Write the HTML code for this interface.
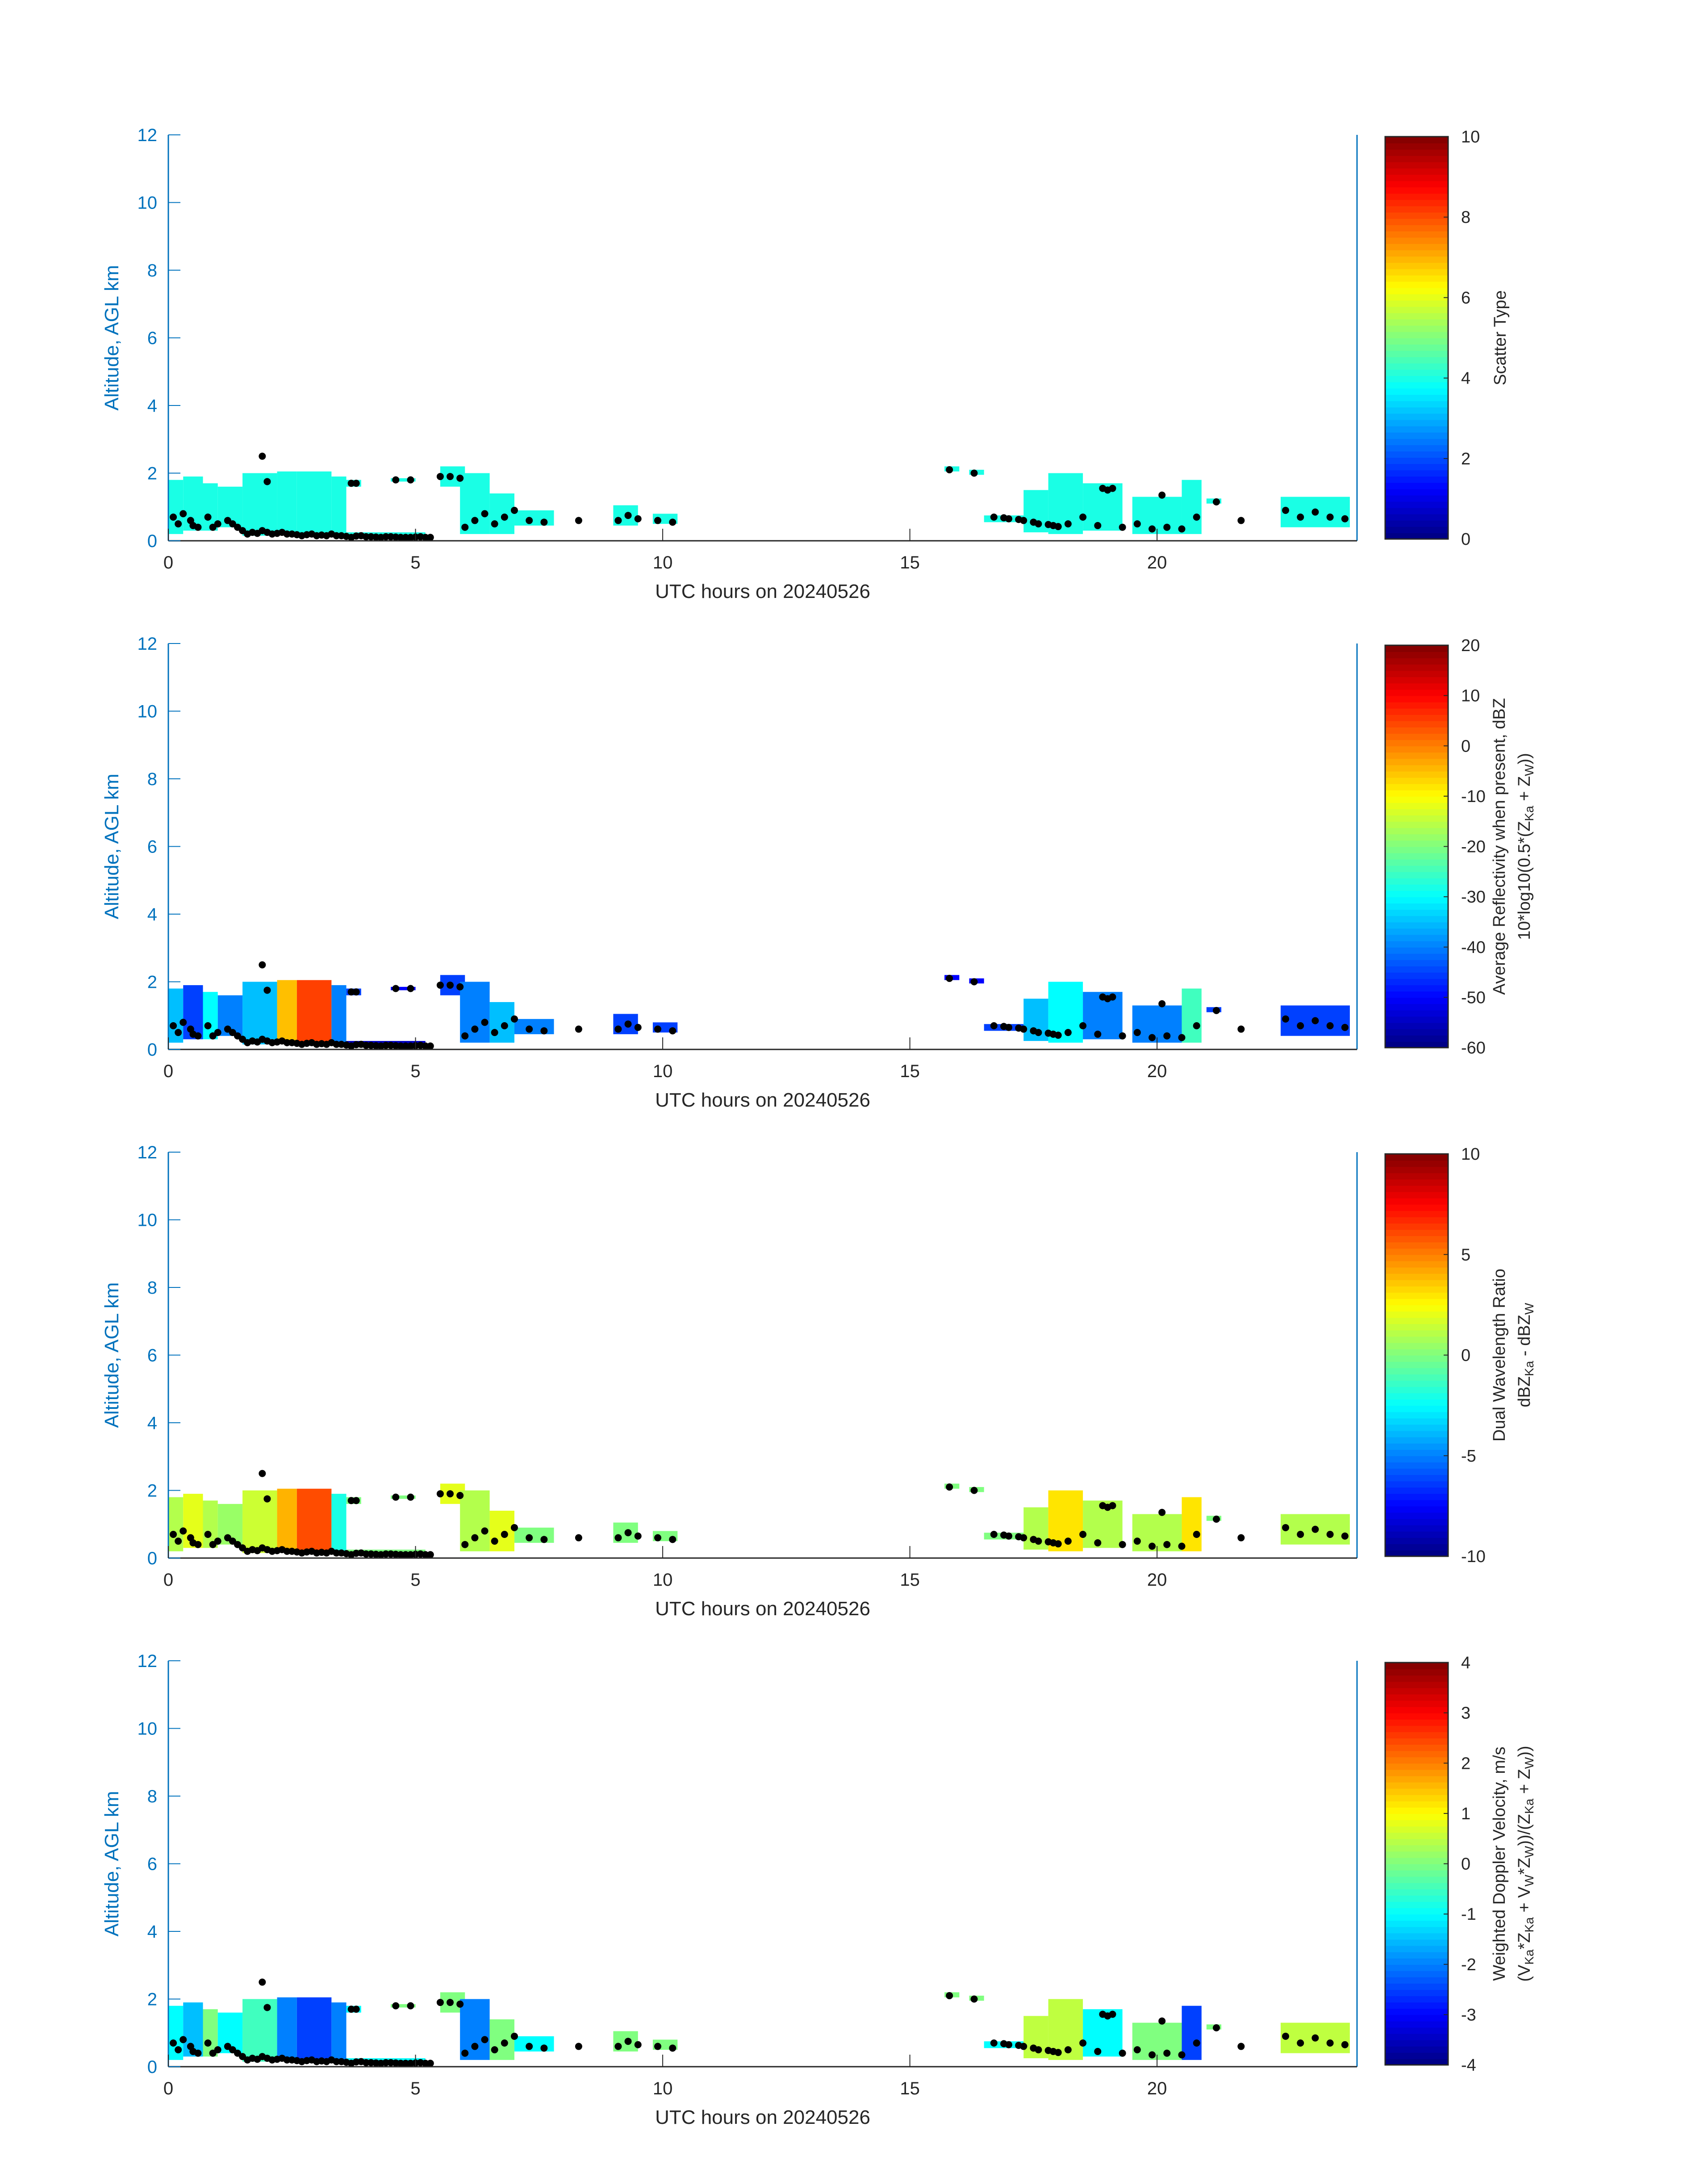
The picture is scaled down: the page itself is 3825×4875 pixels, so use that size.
<!DOCTYPE html>
<html><head><meta charset="utf-8"><style>
html,body{margin:0;padding:0;background:#fff;}
svg{display:block;font-family:"Liberation Sans","DejaVu Sans",sans-serif;}
</style></head><body>
<svg id="fig" width="3825" height="4875" viewBox="0 0 3825 4875" xmlns="http://www.w3.org/2000/svg"></svg>
<script>
// ---- data ----
const segStart = [0.0,0.3,0.7,1.0,1.5,2.2,2.6,3.3,3.6,4.5,3.6,5.5,5.9,6.5,7.0,9.0,9.8,15.7,16.2,16.5,17.3,17.8,18.5,19.5,20.5,21.0,22.5];
const segEnd   = [0.3,0.7,1.0,1.5,2.2,2.6,3.3,3.6,3.9,5.0,5.2,6.0,6.5,7.0,7.8,9.5,10.3,16.0,16.5,17.3,17.8,18.5,19.3,20.5,20.9,21.3,23.9];
const segBase  = [0.2,0.3,0.3,0.4,0.15,0.2,0.15,0.15,1.6,1.75,0.1,1.6,0.2,0.2,0.45,0.45,0.5,2.05,1.95,0.55,0.25,0.2,0.3,0.2,0.2,1.1,0.4];
const segTop   = [1.8,1.9,1.7,1.6,2.0,2.05,2.05,1.9,1.8,1.85,0.25,2.2,2.0,1.4,0.9,1.05,0.8,2.2,2.1,0.75,1.5,2.0,1.7,1.3,1.8,1.25,1.3];
const scatterVals = [4,4,4,4,4,4,4,4,4,4,4,4,4,4,4,4,4,4,4,4,4,4,4,4,4,4,4];
const reflVals = [-35,-45,-30,-40,-35,-5,5,-40,-45,-50,-55,-45,-40,-35,-40,-45,-45,-50,-50,-45,-35,-30,-40,-40,-25,-45,-45];
const dwrVals  = [1,2,1,0.5,1.5,4,6,-2,0,0,0,2,1,2,0,0,0,0,0,0,1,3,1,1,3,0,1];
const velVals  = [-1,-1.5,0,-1,-0.5,-2,-2.5,-2,-1,0,-1,0,-2,0,-1,0,0,0,0,-1,0.5,0.5,-1,0,-2.5,0,0.5];
const dotT = [0.1,0.2,0.3,0.45,0.6,0.8,1.0,1.2,1.4,1.5,1.6,1.7,1.8,1.9,2.0,2.1,2.2,2.3,2.4,2.5,2.6,2.7,2.8,2.9,3.0,3.1,3.2,3.3,3.4,3.5,3.6,3.7,3.8,3.9,4.0,4.1,4.2,4.3,4.4,4.5,4.6,4.7,4.8,4.9,5.0,5.1,5.2,5.3,5.5,5.7,5.9,6.0,6.2,6.4,6.6,6.8,7.0,7.3,7.6,8.3,9.1,9.3,9.5,9.9,10.2,15.8,16.3,16.7,16.9,17.0,17.2,17.3,17.5,17.6,17.8,17.9,18.0,18.2,18.5,18.8,19.0,19.3,19.6,19.9,20.2,20.5,20.8,21.2,21.7,22.6,22.9,23.2,23.5,23.8,1.9,3.7,3.8,4.6,4.9,18.9,19.1,20.1,2.0,0.5,0.9,1.3];
const dotH = [0.7,0.5,0.8,0.6,0.4,0.7,0.5,0.6,0.4,0.3,0.2,0.25,0.22,0.3,0.25,0.2,0.22,0.25,0.2,0.2,0.18,0.15,0.18,0.2,0.15,0.17,0.15,0.2,0.15,0.15,0.13,0.1,0.14,0.15,0.12,0.12,0.11,0.1,0.12,0.12,0.11,0.1,0.1,0.1,0.11,0.12,0.1,0.1,1.9,1.9,1.85,0.4,0.6,0.8,0.5,0.7,0.9,0.6,0.55,0.6,0.6,0.75,0.65,0.6,0.55,2.1,2.0,0.7,0.68,0.65,0.63,0.6,0.55,0.5,0.48,0.45,0.42,0.5,0.7,0.45,1.5,0.4,0.5,0.35,0.4,0.35,0.7,1.15,0.6,0.9,0.7,0.85,0.7,0.65,2.5,1.7,1.7,1.8,1.8,1.55,1.55,1.35,1.75,0.45,0.4,0.5];
const xTicks = [0,5,10,15,20];
const yTicks = [0,2,4,6,8,10,12];
const cb1Ticks = [0,2,4,6,8,10];
const cb2Ticks = [-60,-50,-40,-30,-20,-10,0,10,20];
const cb3Ticks = [-10,-5,0,5,10];
const cb4Ticks = [-4,-3,-2,-1,0,1,2,3,4];

const NS="http://www.w3.org/2000/svg";
const svg=document.getElementById('fig');
function mk(tag,attrs,parent){const e=document.createElementNS(NS,tag);for(const k in attrs)e.setAttribute(k,attrs[k]);(parent||svg).appendChild(e);return e;}
function jet(v){v=Math.max(0,Math.min(1,v));const c=x=>Math.round(255*Math.max(0,Math.min(1,1.5-Math.abs(4*v-x))));return `rgb(${c(3)},${c(2)},${c(1)})`;}

const X0=377,X1=3034,XR=3039,H=909,CBX=3102,CBW=141;
const panels=[
 {top:302,vals:scatterVals,lo:0,hi:10,ticks:cb1Ticks,lab:["Scatter Type"],name:"scatter-type"},
 {top:1441,vals:reflVals,lo:-60,hi:20,ticks:cb2Ticks,lab:["Average Reflectivity when present, dBZ","10*log10(0.5*(Z<tspan font-size='28' dy='8'>Ka</tspan><tspan dy='-8'> + Z</tspan><tspan font-size='28' dy='8'>W</tspan><tspan dy='-8'>))</tspan>"],name:"reflectivity"},
 {top:2580,vals:dwrVals,lo:-10,hi:10,ticks:cb3Ticks,lab:["Dual Wavelength Ratio","dBZ<tspan font-size='28' dy='8'>Ka</tspan><tspan dy='-8'> - dBZ</tspan><tspan font-size='28' dy='8'>W</tspan>"],name:"dual-wavelength-ratio"},
 {top:3719,vals:velVals,lo:-4,hi:4,ticks:cb4Ticks,lab:["Weighted Doppler Velocity, m/s","(V<tspan font-size='28' dy='8'>Ka</tspan><tspan dy='-8'>*Z</tspan><tspan font-size='28' dy='8'>Ka</tspan><tspan dy='-8'> + V</tspan><tspan font-size='28' dy='8'>W</tspan><tspan dy='-8'>*Z</tspan><tspan font-size='28' dy='8'>W</tspan><tspan dy='-8'>))/(Z</tspan><tspan font-size='28' dy='8'>Ka</tspan><tspan dy='-8'> + Z</tspan><tspan font-size='28' dy='8'>W</tspan><tspan dy='-8'>))</tspan>"],name:"doppler-velocity"}
];

panels.forEach((p,pi)=>{
  const g=mk('g',{});
  
  
  const bot=p.top+H;
  const xs=t=>X0+(X1-X0)*t/24;
  const ys=h=>bot-H*h/12;
  for(let i=0;i<segStart.length;i++){
    const r=mk('rect',{x:xs(segStart[i]),y:ys(segTop[i]),width:xs(segEnd[i])-xs(segStart[i]),height:ys(segBase[i])-ys(segTop[i]),fill:jet((p.vals[i]-p.lo)/(p.hi-p.lo))},g);
    
    
  }
  for(let i=0;i<dotT.length;i++){
    const c=mk('circle',{cx:xs(dotT[i]),cy:ys(dotH[i]),r:8,fill:'#000'},g);
    
    
  }
  const ax=mk('line',{x1:X0,y1:p.top,x2:X0,y2:bot,stroke:'#0072BD','stroke-width':3},g);
  
  
  const ar=mk('line',{x1:XR,y1:p.top,x2:XR,y2:bot,stroke:'#0072BD','stroke-width':3},g);
  
  
  const xb=mk('line',{x1:X0,y1:bot,x2:XR,y2:bot,stroke:'#262626','stroke-width':3},g);
  
  
  yTicks.forEach(v=>{
    const t=mk('line',{x1:X0,y1:ys(v),x2:X0+27,y2:ys(v),stroke:'#0072BD','stroke-width':2},g);
    
    
    const l=mk('text',{x:352,y:ys(v)+14,'text-anchor':'end','font-size':40,fill:'#0072BD'},g);
    l.textContent=v;
    
    
  });
  xTicks.forEach(v=>{
    const t=mk('line',{x1:xs(v),y1:bot,x2:xs(v),y2:bot-27,stroke:'#262626','stroke-width':2},g);
    
    
    const l=mk('text',{x:xs(v),y:bot+62,'text-anchor':'middle','font-size':40,fill:'#262626'},g);
    l.textContent=v;
    
    
  });
  const yl=mk('text',{x:0,y:0,transform:`translate(265,${p.top+H/2}) rotate(-90)`,'text-anchor':'middle','font-size':44,fill:'#0072BD'},g);
  yl.textContent='Altitude, AGL km';
  
  
  const xl=mk('text',{x:1708,y:bot+128,'text-anchor':'middle','font-size':44,fill:'#262626'},g);
  xl.textContent='UTC hours on 20240526';
  
  
  const cbTop=p.top+4, cbH=H-8, N=64;
  for(let k=0;k<N;k++){
    const s=mk('rect',{x:CBX,y:cbTop+cbH*(N-1-k)/N,width:CBW,height:cbH/N+1,fill:jet((k+0.5)/N)},g);
    
    
  }
  const cbb=mk('rect',{x:CBX,y:cbTop,width:CBW,height:cbH,fill:'none',stroke:'#262626','stroke-width':3},g);
  
  
  p.ticks.forEach(v=>{
    const yy=cbTop+cbH*(1-(v-p.lo)/(p.hi-p.lo));
    const t=mk('line',{x1:CBX+CBW-10,y1:yy,x2:CBX+CBW,y2:yy,stroke:'#262626','stroke-width':2},g);
    
    
    const l=mk('text',{x:3272,y:yy+13,'font-size':38,fill:'#262626'},g);
    l.textContent=v;
    
    
  });
  const n=p.lab.length;
  p.lab.forEach((s,j)=>{
    const cx = n===1 ? 3372 : 3370+j*56;
    const l=mk('text',{transform:`translate(${cx},${p.top+H/2}) rotate(-90)`,'text-anchor':'middle','font-size':38,fill:'#262626'},g);
    l.innerHTML=s;
    
    
  });
});
</script>
</body></html>
